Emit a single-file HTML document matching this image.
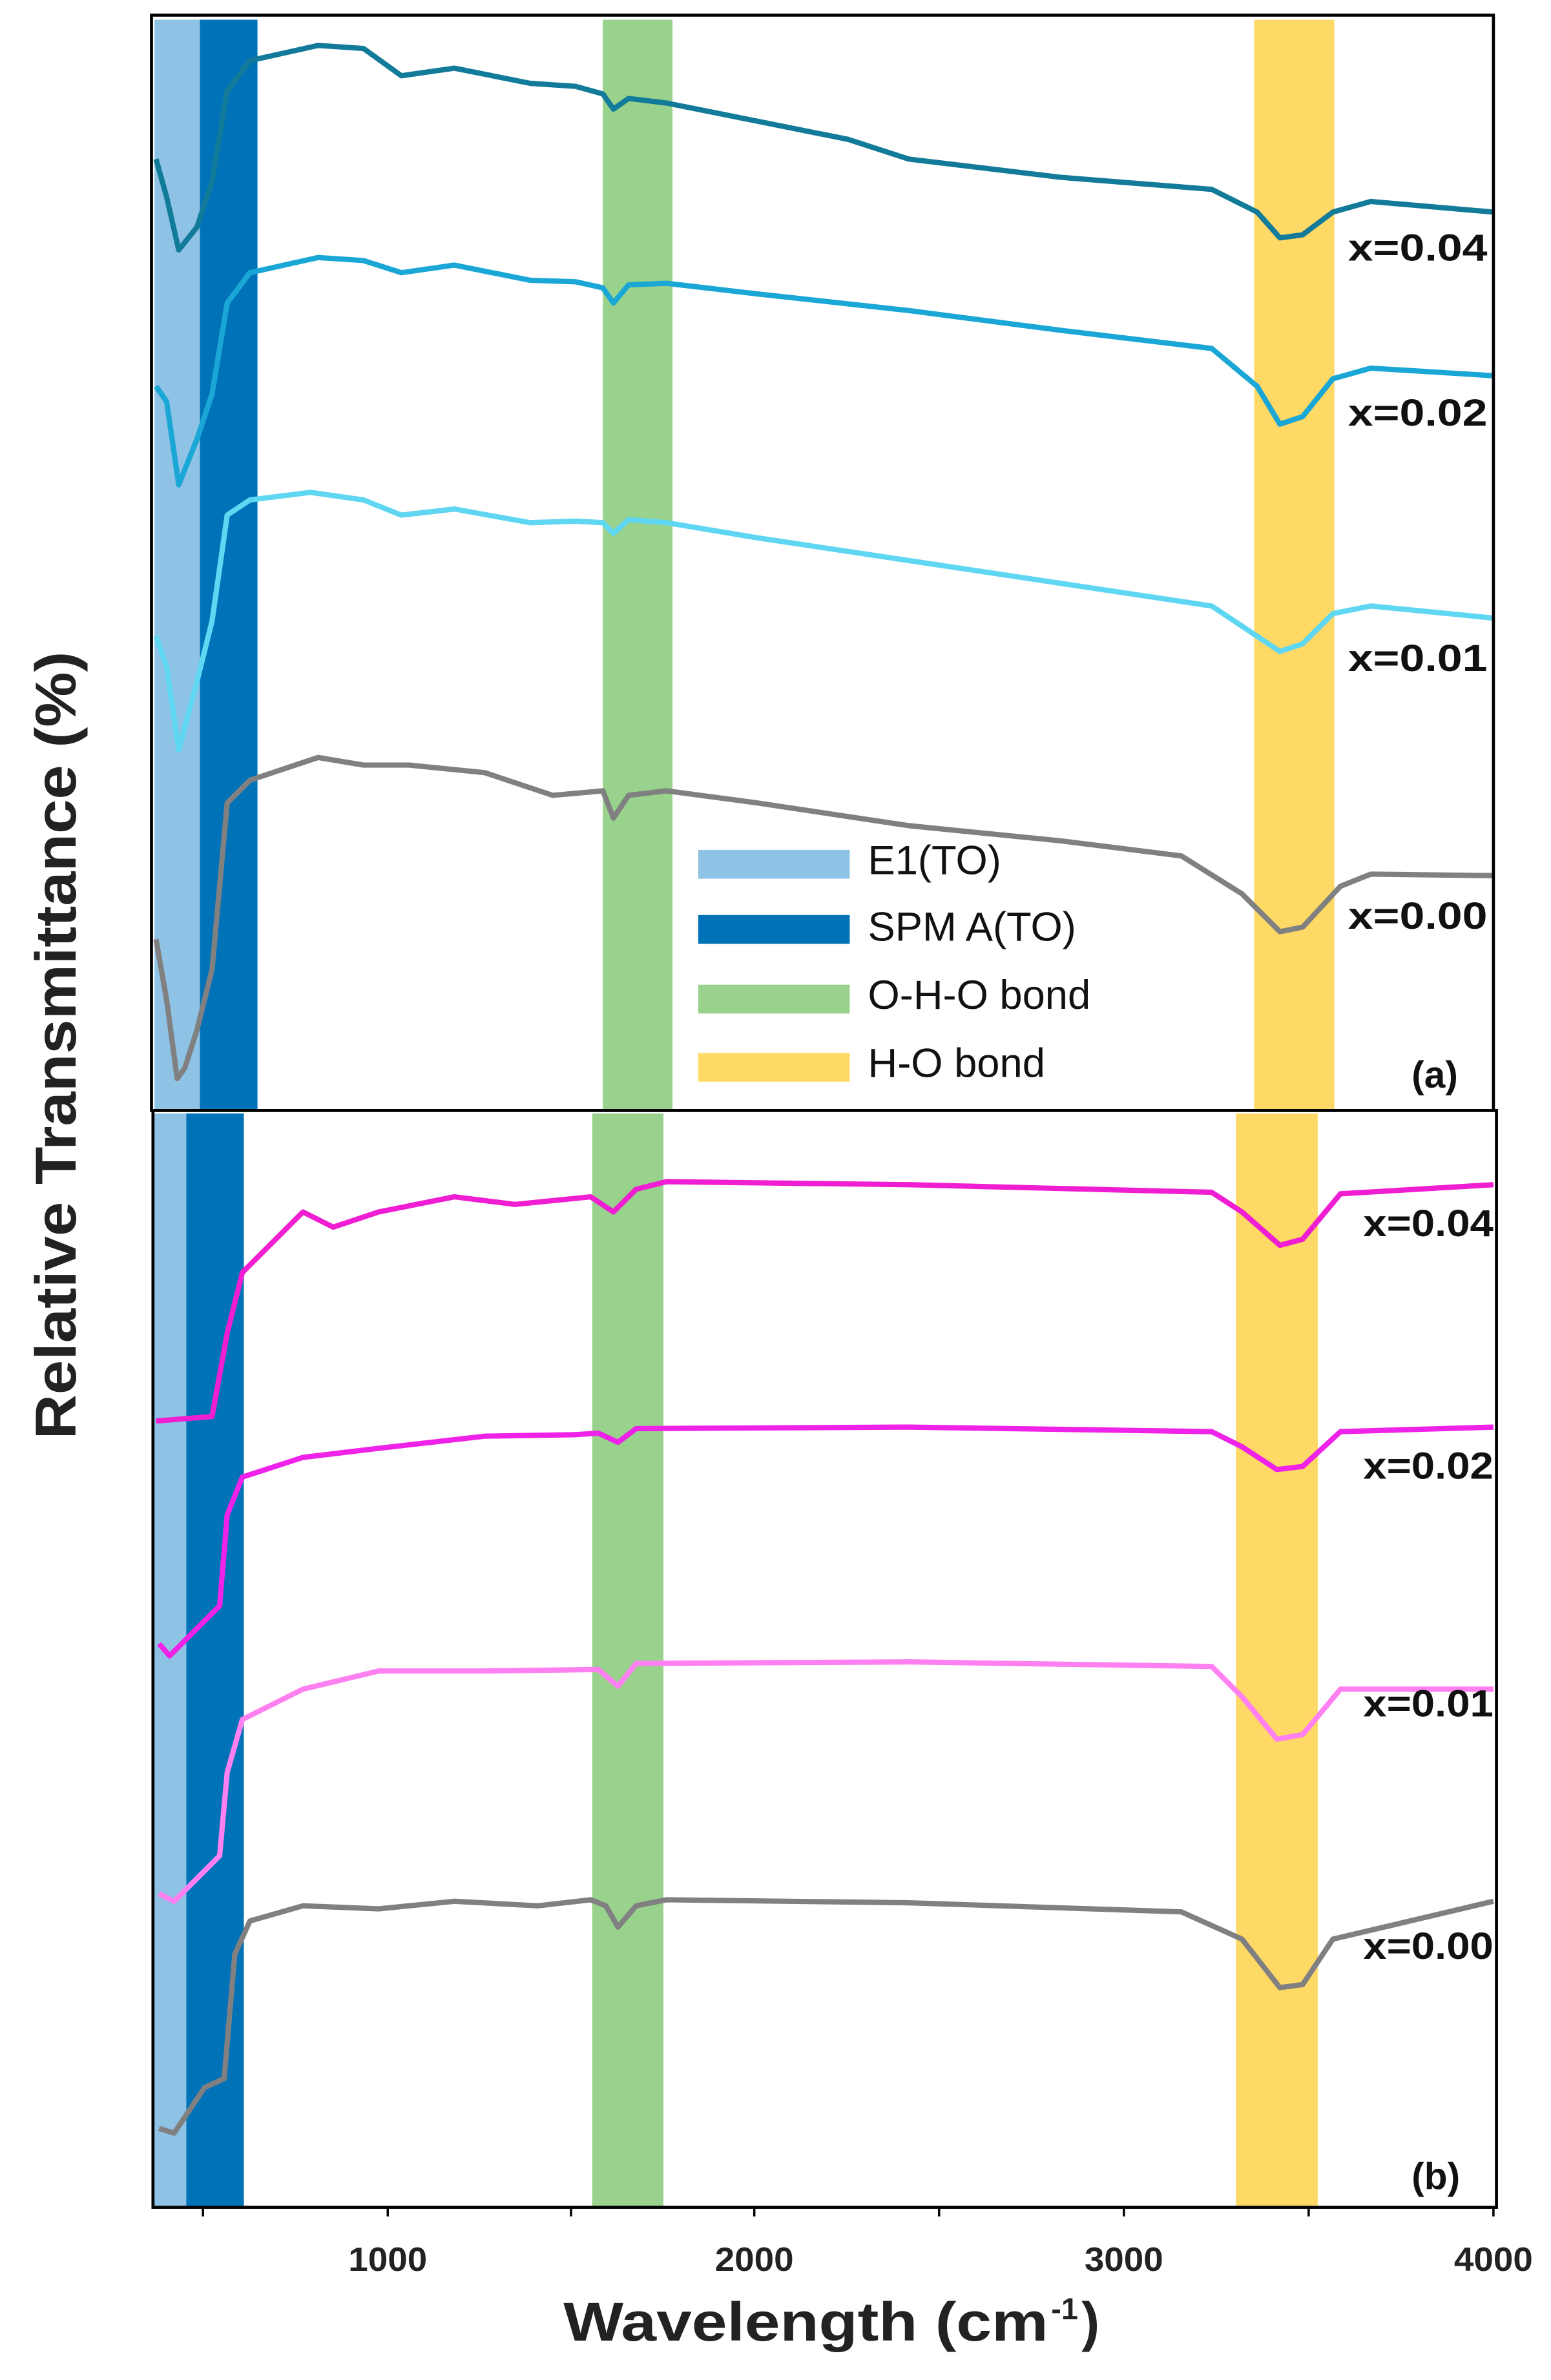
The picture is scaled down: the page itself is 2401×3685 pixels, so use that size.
<!DOCTYPE html>
<html><head><meta charset="utf-8"><style>html,body{margin:0;padding:0;background:#fff}svg{display:block}</style></head>
<body>
<svg xmlns="http://www.w3.org/2000/svg" width="2401" height="3685" viewBox="0 0 1024 1571" preserveAspectRatio="none" font-family="Liberation Sans, sans-serif">
<rect width="1024" height="1571" fill="#fff"/>
<rect x="102" y="13" width="30" height="720" fill="#8ec3e6"/>
<rect x="132" y="13" width="38" height="720" fill="#0072b8"/>
<rect x="398" y="13" width="46" height="720" fill="#99d28c"/>
<rect x="828" y="13" width="53" height="720" fill="#ffd966"/>
<rect x="101" y="735" width="22" height="722" fill="#8ec3e6"/>
<rect x="123" y="735" width="38" height="722" fill="#0072b8"/>
<rect x="391" y="735" width="47" height="722" fill="#99d28c"/>
<rect x="816" y="735" width="54" height="722" fill="#ffd966"/>
<g fill="none" stroke-width="3.5" stroke-linejoin="round">
<polyline stroke="#137b9a" points="103,105 110,130 118,165 130,150 140,120 150,60 165,40 210,30 240,32 265,50 300,45 350,55 380,57 398,62 405,72 415,65 440,68 500,80 560,92 600,105 700,117 800,125 830,140 845,157 860,155 880,140 905,133 986,140"/>
<polyline stroke="#1aa7d6" points="103,255 110,265 118,320 130,290 140,260 150,200 165,180 210,170 240,172 265,180 300,175 350,185 380,186 398,190 405,200 415,188 440,187 500,194 600,205 700,218 800,230 830,255 845,280 860,275 880,250 905,243 986,248"/>
<polyline stroke="#5fd6f2" points="103,420 110,440 118,495 130,450 140,410 150,340 165,330 205,325 240,330 265,340 300,336 350,345 380,344 398,345 405,352 415,343 440,345 500,355 600,370 700,385 800,400 830,420 845,430 860,425 880,405 905,400 986,408"/>
<polyline stroke="#808080" points="103,620 110,660 117,712 122,705 130,680 140,640 150,530 165,515 210,500 240,505 270,505 320,510 350,520 365,525 398,522 405,540 415,525 440,522 500,530 600,545 700,555 780,565 820,590 845,615 860,612 885,585 905,577 986,578"/>
<polyline stroke="#f01ed2" points="103,938 140,935 150,880 160,840 200,800 220,810 250,800 300,790 340,795 390,790 405,800 420,785 440,780 600,782 800,787 820,800 845,822 860,818 885,788 986,782"/>
<polyline stroke="#ee22e8" points="105,1085 112,1093 145,1060 150,1000 160,975 200,962 250,956 320,948 380,947 395,946 408,952 420,943 600,942 800,945 820,955 843,970 860,968 885,945 986,942"/>
<polyline stroke="#ff80f0" points="105,1250 115,1255 145,1225 150,1170 160,1135 200,1115 250,1103 320,1103 395,1102 408,1113 420,1098 600,1097 800,1100 820,1120 843,1148 860,1145 885,1115 986,1115"/>
<polyline stroke="#808080" points="105,1405 115,1408 135,1378 148,1372 155,1290 165,1268 200,1258 250,1260 300,1255 355,1258 390,1254 400,1258 408,1272 420,1258 440,1254 600,1256 780,1262 820,1280 845,1312 860,1310 880,1280 986,1255"/>
</g>
<rect x="100" y="10" width="886" height="723" fill="none" stroke="#000" stroke-width="2"/>
<rect x="101" y="733" width="887" height="724" fill="none" stroke="#000" stroke-width="2"/>
<g stroke="#000" stroke-width="1.5">
<line x1="134" y1="1457" x2="134" y2="1463"/><line x1="256" y1="1457" x2="256" y2="1463"/><line x1="377" y1="1457" x2="377" y2="1463"/><line x1="498" y1="1457" x2="498" y2="1463"/><line x1="620" y1="1457" x2="620" y2="1463"/><line x1="742" y1="1457" x2="742" y2="1463"/><line x1="864" y1="1457" x2="864" y2="1463"/><line x1="986" y1="1457" x2="986" y2="1463"/>
</g>
<g font-weight="bold" font-size="22" text-anchor="middle" fill="#222">
<text x="256" y="1499" textLength="52" lengthAdjust="spacingAndGlyphs">1000</text><text x="498" y="1499" textLength="52" lengthAdjust="spacingAndGlyphs">2000</text><text x="742" y="1499" textLength="52" lengthAdjust="spacingAndGlyphs">3000</text><text x="986" y="1499" textLength="52" lengthAdjust="spacingAndGlyphs">4000</text>
</g>
<text x="372" y="1545" font-weight="bold" font-size="36" fill="#222" textLength="320" lengthAdjust="spacingAndGlyphs">Wavelength (cm</text>
<text x="694" y="1531" font-weight="bold" font-size="20" fill="#222">-1</text>
<text x="714" y="1545" font-weight="bold" font-size="36" fill="#222">)</text>
<text transform="translate(50,690) rotate(-90)" text-anchor="middle" font-weight="bold" font-size="38" fill="#222" textLength="520" lengthAdjust="spacingAndGlyphs">Relative Transmittance (%)</text>
<g font-weight="bold" font-size="25" fill="#111">
<text x="890" y="172" textLength="92" lengthAdjust="spacingAndGlyphs">x=0.04</text><text x="890" y="281" textLength="92" lengthAdjust="spacingAndGlyphs">x=0.02</text><text x="890" y="443" textLength="92" lengthAdjust="spacingAndGlyphs">x=0.01</text><text x="890" y="613" textLength="92" lengthAdjust="spacingAndGlyphs">x=0.00</text>
<text x="900" y="816" textLength="86" lengthAdjust="spacingAndGlyphs">x=0.04</text><text x="900" y="976" textLength="86" lengthAdjust="spacingAndGlyphs">x=0.02</text><text x="900" y="1133" textLength="86" lengthAdjust="spacingAndGlyphs">x=0.01</text><text x="900" y="1293" textLength="86" lengthAdjust="spacingAndGlyphs">x=0.00</text>
<text x="932" y="718">(a)</text><text x="932" y="1445">(b)</text>
</g>
<rect x="461" y="561" width="100" height="19" fill="#8ec3e6"/>
<rect x="461" y="604" width="100" height="19" fill="#0072b8"/>
<rect x="461" y="650" width="100" height="19" fill="#99d28c"/>
<rect x="461" y="695" width="100" height="19" fill="#ffd966"/>
<g font-size="27" fill="#111">
<text x="573" y="577">E1(TO)</text><text x="573" y="621">SPM A(TO)</text><text x="573" y="666">O-H-O bond</text><text x="573" y="711">H-O bond</text>
</g>
</svg>
</body></html>
